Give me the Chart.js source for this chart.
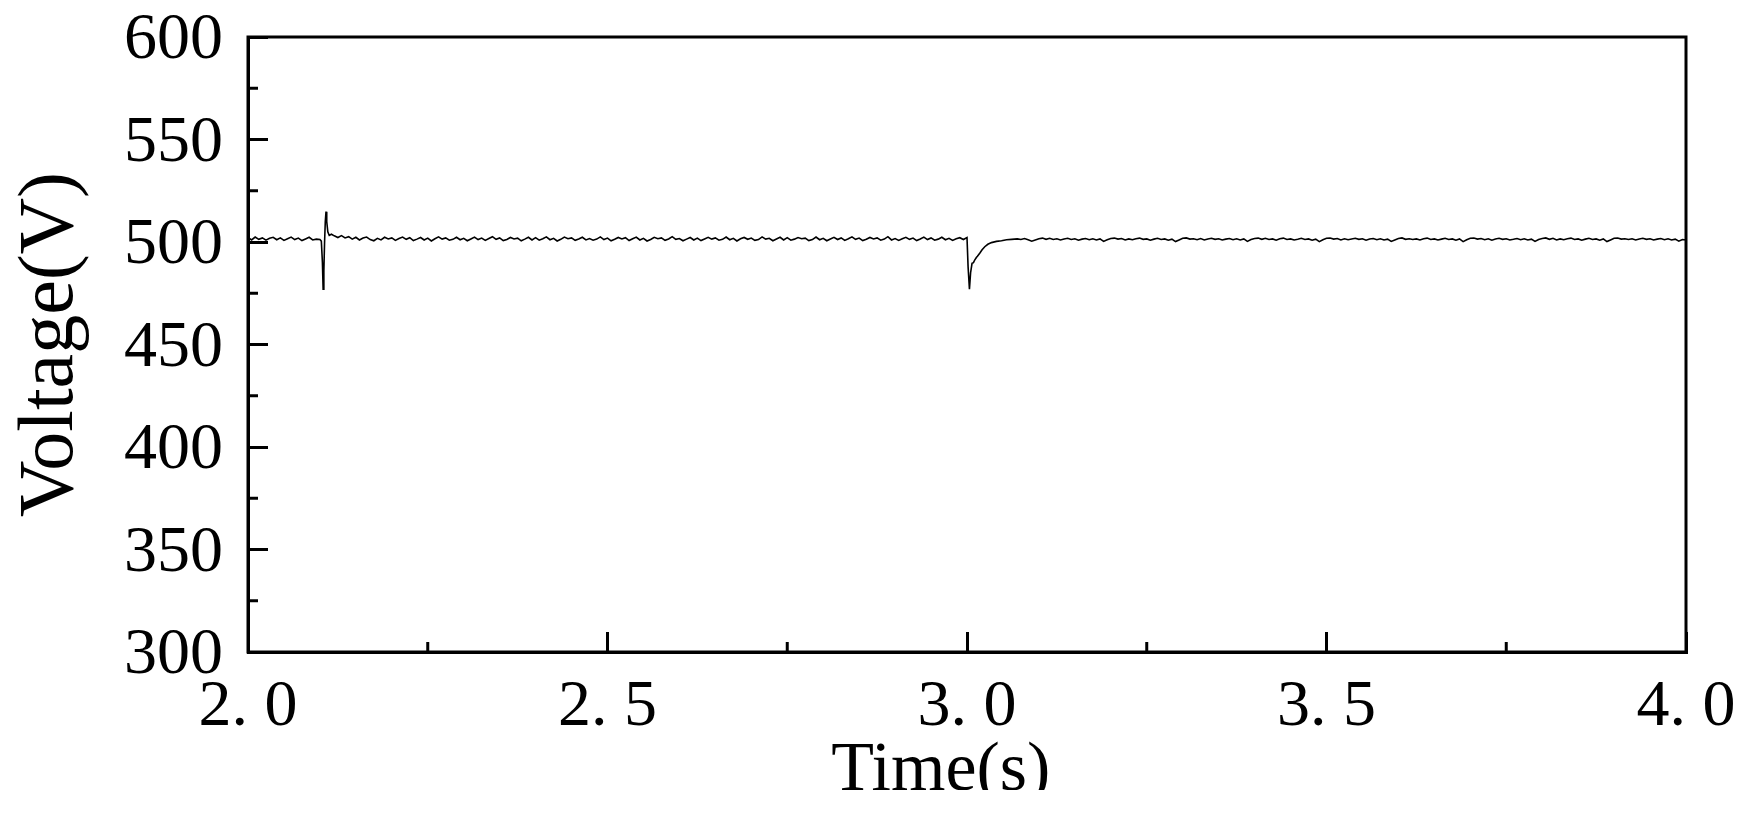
<!DOCTYPE html>
<html>
<head>
<meta charset="utf-8">
<script src="https://cdn.jsdelivr.net/npm/chart.js@4/dist/chart.umd.min.js"></script>
<style>
  html, body { margin: 0; padding: 0; background: #fff; }
  #wrap { position: absolute; left: 0; top: 0; width: 1750px; height: 790px; }
</style>
</head>
<body>
<div id="wrap"><canvas id="voltChart"></canvas></div>
<script>
var yTicksMinor, xTicksMinor, rippleA, rippleB, rippleC, transient1T, transient1V, transient2T, transient2V;
var sampleStep = 0.005;

// ripple before the first disturbance, 2.000 .. 2.095 s
rippleA = [502.2, 501.0, 502.4, 501.3, 502.0, 500.9, 501.8, 502.3, 501.1, 502.0,
  500.8, 501.6, 502.4, 501.2, 501.9, 500.7, 501.5, 502.3, 501.0, 501.4];

// disturbance at 2.1 s
transient1T = [2.100, 2.102, 2.1035, 2.1045, 2.1055, 2.1065, 2.1075, 2.1085, 2.1095, 2.111, 2.113, 2.116];
transient1V = [501.2, 500.4, 490.0, 477.0, 486.0, 500.0, 510.0, 514.8, 510.0, 505.0, 503.2, 503.8];

// ripple 2.120 .. 2.995 s
rippleB = [503.0, 502.2, 503.1, 502.0, 502.6, 501.4, 502.3, 501.0, 501.9, 502.4, 501.2, 500.6, 501.8, 501.0, 502.3, 501.5, 502.0, 500.8, 501.7, 502.4,
  501.3, 502.1, 500.7, 501.4, 502.2, 501.0, 501.9, 500.5, 501.6, 502.5, 501.4, 502.0, 500.9, 501.3, 502.3, 501.1, 501.8, 500.6, 501.5, 502.4,
  501.2, 501.9, 500.8, 501.7, 502.6, 501.3, 502.0, 500.7, 501.2, 502.2, 501.5, 501.9, 500.6, 501.4, 502.3, 501.0, 502.1, 500.9, 501.6, 502.5,
  501.1, 501.8, 500.5, 501.3, 502.4, 501.6, 502.0, 500.8, 501.5, 502.3, 501.0, 501.7, 500.9, 501.4, 502.5, 501.2, 501.9, 500.6, 501.3, 502.2,
  501.5, 502.1, 500.7, 501.6, 502.4, 501.0, 501.8, 500.5, 501.2, 502.3, 501.6, 502.0, 500.8, 501.5, 502.6, 501.3, 501.7, 500.6, 501.4, 502.2,
  501.0, 501.9, 500.7, 501.5, 502.3, 501.4, 502.0, 500.9, 501.3, 502.4, 501.1, 501.8, 500.5, 501.6, 502.2, 501.3, 501.9, 500.8, 501.2, 502.5,
  501.4, 501.8, 500.6, 501.5, 502.3, 501.0, 502.1, 500.9, 501.4, 502.2, 501.6, 501.9, 500.7, 501.2, 502.4, 501.1, 501.8, 500.6, 501.5, 502.3,
  501.2, 502.0, 500.8, 501.6, 502.5, 501.3, 501.9, 500.7, 501.3, 502.2, 501.5, 502.0, 500.9, 501.4, 502.6, 501.0, 501.7, 500.8, 501.6, 502.3,
  501.3, 501.9, 500.7, 501.5, 502.4, 501.2, 502.0, 500.9, 501.4, 502.3, 501.1, 501.8, 500.8, 501.6, 502.1, 501.2];

// load step at 3.0 s and recovery
transient2T = [3.000, 3.0015, 3.0034, 3.005, 3.007, 3.009, 3.0107, 3.013, 3.0145, 3.0177, 3.021, 3.0247, 3.029, 3.034, 3.041, 3.048, 3.055, 3.062];
transient2V = [502.2, 488.0, 477.0, 485.0, 489.6, 489.9, 491.2, 492.4, 493.0, 494.5, 496.2, 497.7, 498.9, 499.7, 500.3, 500.6, 501.1, 501.3];

// ripple 3.070 .. 4.000 s
rippleC = [501.5, 501.2, 501.7, 501.1, 500.4, 501.0, 501.6, 501.9, 501.3, 501.8, 501.2, 501.6, 501.0, 501.5, 501.8, 501.2, 501.6, 500.9, 501.4, 501.7,
  501.1, 501.6, 501.0, 501.5, 500.3, 501.1, 501.7, 501.9, 501.4, 501.7, 501.0, 501.5, 501.1, 501.6, 501.9, 501.3, 501.5, 500.9, 501.4, 501.8,
  501.2, 501.5, 500.9, 501.4, 500.2, 501.0, 501.8, 502.0, 501.4, 501.6, 501.1, 501.7, 501.0, 501.5, 501.8, 501.3, 501.6, 501.0, 501.4, 501.7,
  501.1, 501.6, 501.0, 501.5, 500.3, 501.2, 501.7, 501.9, 501.3, 501.8, 501.2, 501.5, 500.9, 501.6, 501.9, 501.2, 501.5, 501.0, 501.3, 501.8,
  501.2, 501.5, 500.9, 501.4, 500.2, 501.1, 501.8, 501.9, 501.4, 501.7, 501.0, 501.6, 501.1, 501.5, 501.8, 501.3, 501.6, 500.9, 501.5, 501.7,
  501.1, 501.6, 501.0, 501.4, 500.3, 501.0, 501.7, 502.0, 501.3, 501.6, 501.2, 501.5, 501.0, 501.6, 501.9, 501.2, 501.5, 501.0, 501.4, 501.8,
  501.2, 501.5, 500.9, 501.5, 500.2, 501.1, 501.8, 501.9, 501.4, 501.7, 501.1, 501.6, 500.9, 501.5, 501.8, 501.3, 501.6, 501.0, 501.3, 501.7,
  501.1, 501.6, 501.0, 501.4, 500.3, 501.2, 501.7, 502.0, 501.3, 501.8, 501.0, 501.5, 501.1, 501.6, 501.9, 501.2, 501.5, 500.9, 501.4, 501.8,
  501.2, 501.5, 500.9, 501.5, 500.2, 501.0, 501.8, 501.9, 501.4, 501.6, 501.2, 501.6, 501.0, 501.5, 501.8, 501.3, 501.6, 501.0, 501.4, 501.7,
  501.1, 501.6, 501.0, 501.4, 500.4, 501.2, 501.0];

yTicksMinor = [325, 375, 425, 475, 525, 575];
xTicksMinor = [2.25, 2.75, 3.25, 3.75];

function sampled(t0, values) {
  return values.map(function(v, i) {
    return { x: +(t0 + i * sampleStep).toFixed(4), y: v };
  });
}

function paired(ts, vs) {
  return ts.map(function(t, i) {
    return { x: t, y: vs[i] };
  });
}

var points = [].concat(
  sampled(2.0, rippleA),
  paired(transient1T, transient1V),
  sampled(2.12, rippleB),
  paired(transient2T, transient2V),
  sampled(3.07, rippleC)
);

var framePlugin = {
  id: 'frame',
  afterDraw: function(chart) {
    var c = chart.ctx, a = chart.chartArea, xs = chart.scales.x, ys = chart.scales.y;
    c.save();
    c.strokeStyle = '#000';
    c.lineWidth = 3;
    c.strokeRect(a.left, a.top, a.right - a.left, a.bottom - a.top);
    yTicksMinor.forEach(function(v) {
      var p = ys.getPixelForValue(v);
      c.beginPath();
      c.moveTo(a.left, p);
      c.lineTo(a.left + 10, p);
      c.stroke();
    });
    xTicksMinor.forEach(function(v) {
      var p = xs.getPixelForValue(v);
      c.beginPath();
      c.moveTo(p, a.bottom);
      c.lineTo(p, a.bottom - 10);
      c.stroke();
    });
    c.restore();
  }
};

var ctx = document.getElementById('voltChart').getContext('2d');

var chart = new Chart(ctx, {
  type: 'line',
  data: {
    datasets: [
      {
        data: points,
        borderColor: '#000',
        borderWidth: 1.6,
        pointRadius: 0,
        tension: 0,
        fill: false
      }
    ]
  },
  options: {
    responsive: true,
    maintainAspectRatio: false,
    animation: false,
    events: [],
    layout: {
      padding: { left: 0, top: 37, right: 64, bottom: 0 }
    },
    plugins: {
      legend: { display: false },
      tooltip: { enabled: false }
    },
    scales: {
      x: {
        type: 'linear',
        min: 2,
        max: 4,
        border: { display: true, color: '#000', width: 3 },
        grid: { display: true, drawOnChartArea: false, drawTicks: true, tickLength: -20, tickWidth: 3, tickColor: '#000' },
        ticks: {
          stepSize: 0.5,
          autoSkip: false,
          maxRotation: 0,
          padding: 43,
          color: '#000',
          font: { family: 'Liberation Serif', size: 66, lineHeight: 1 },
          callback: function(v) { return v.toFixed(1).replace('.', '. '); }
        },
        title: {
          display: true,
          text: 'Time(s)   ',
          color: '#000',
          font: { family: 'Liberation Serif', size: 70, lineHeight: 1 },
          padding: { top: 0, bottom: -17 }
        },
        afterFit: function(s) {
          s.height = 138;
          s.paddingLeft = 0;
          s.paddingRight = 0;
        }
      },
      y: {
        min: 300,
        max: 600,
        border: { display: true, color: '#000', width: 3 },
        grid: { display: true, drawOnChartArea: false, drawTicks: true, tickLength: -20, tickWidth: 3, tickColor: '#000' },
        ticks: {
          stepSize: 50,
          padding: 45,
          labelOffset: 4,
          color: '#000',
          font: { family: 'Liberation Serif', size: 66, lineHeight: 1 }
        },
        title: {
          display: true,
          text: 'Voltage(V)',
          color: '#000',
          font: { family: 'Liberation Serif', size: 78, lineHeight: 1 },
          padding: { top: 13, bottom: 0 }
        },
        afterFit: function(s) {
          s.width = 248;
          s.paddingTop = 0;
          s.paddingBottom = 0;
        }
      }
    }
  },
  plugins: [framePlugin]
});
</script>
</body>
</html>
